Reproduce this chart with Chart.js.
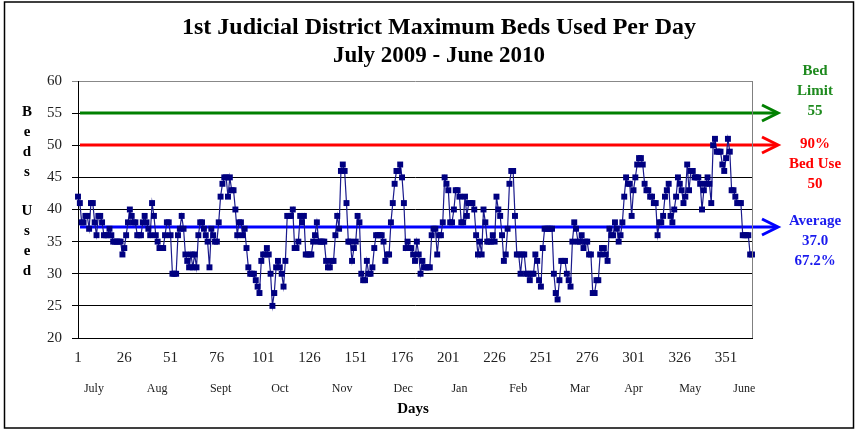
<!DOCTYPE html>
<html><head><meta charset="utf-8">
<script src="https://cdn.jsdelivr.net/npm/chart.js@4/dist/chart.umd.min.js"></script>
<style>html,body{margin:0;padding:0;background:#fff;}#wrap{width:857px;height:431px;position:relative}</style>
</head><body><div id="wrap"><canvas id="c" width="857" height="431"></canvas></div>
<script>
const titleLines = ['1st Judicial District Maximum Beds Used Per Day', 'July 2009 - June 2010'];
const beds = [
42,41,38,38,39,39,37,41,41,38,
36,39,39,38,36,36,36,37,36,35,
35,35,35,35,33,34,36,38,40,39,
38,38,36,36,36,38,39,38,37,36,
41,39,36,35,34,34,34,36,38,38,
36,30,30,30,36,37,39,37,33,32,
31,33,31,33,31,36,38,38,37,36,
35,31,37,36,35,35,38,42,44,45,
45,42,45,43,43,40,36,38,38,36,
37,34,31,30,30,30,29,28,27,32,
33,33,34,33,30,25,27,31,32,31,
30,28,32,39,39,39,40,34,34,35,
39,38,39,33,33,33,33,35,36,38,
35,35,35,35,32,31,31,32,32,36,
39,37,46,47,46,41,35,35,32,34,
35,39,38,30,29,29,32,30,30,31,
34,36,36,36,36,35,32,33,33,38,
41,44,46,46,47,45,41,34,35,34,
34,33,32,35,33,30,32,31,31,31,
31,36,37,37,33,36,36,38,45,44,
43,38,38,40,43,43,42,38,38,42,
39,41,41,41,40,36,33,35,33,40,
38,35,35,35,36,35,42,40,39,36,
32,33,37,44,46,46,39,33,33,30,
33,33,30,30,29,30,30,33,32,29,
28,34,37,37,37,37,37,30,27,26,
29,32,32,32,30,29,28,35,38,37,
35,35,36,34,35,35,33,33,27,27,
29,29,33,34,34,33,32,37,36,36,
38,37,35,36,38,42,45,44,44,39,
43,45,47,48,48,47,44,43,43,42,
42,41,41,36,38,38,39,42,43,44,
39,38,40,42,45,44,43,41,42,47,
43,46,46,45,45,45,44,40,43,44,
45,44,41,50,51,49,49,49,47,46,
48,51,49,43,43,42,41,41,41,36,
36,36,36,33,33
];
const xTickValues = [1,26,51,76,101,126,151,176,201,226,251,276,301,326,351];
const yMin = 20, yMax = 60, yStep = 5;
const monthNames = ['July','Aug','Sept','Oct','Nov','Dec','Jan','Feb','Mar','Apr','May','June'];
const monthLabelDays = [9.6,43.7,78,110,143.6,176.6,207,238.7,272,301,331.6,360.8];
const xAxisTitle = 'Days';
const yAxisTitleWords = ['Beds','Used'];
const bedLimit = 55;
const bedUse90 = 50;
const averageBeds = 37.3;
const bedLimitLabel = ['Bed','Limit','55'];
const bedUseLabel = ['90%','Bed Use','50'];
const averageLabel = ['Average','37.0','67.2%'];

const SERIF = '"Liberation Serif","DejaVu Serif",serif';
const refLines = [
  {value: bedLimit, color: '#008000', text: bedLimitLabel, textColor: '#1e8a1e', textTop: 71},
  {value: bedUse90, color: '#ff0000', text: bedUseLabel, textColor: '#ff0000', textTop: 144},
  {value: averageBeds, color: '#0000ff', text: averageLabel, textColor: '#1a1aee', textTop: 221}
];

const points = beds.map((v, i) => ({x: i + 1, y: v}));

const deco = {
  id: 'deco',
  beforeDatasetsDraw(chart) {
    const {ctx, chartArea: a, scales: {y}} = chart;
    ctx.save();
    refLines.forEach(r => {
      const py = Math.round(y.getPixelForValue(r.value));
      ctx.strokeStyle = r.color; ctx.lineWidth = 3; ctx.lineCap = 'butt';
      ctx.beginPath(); ctx.moveTo(a.left + 2, py); ctx.lineTo(a.right + 25, py); ctx.stroke();
      ctx.beginPath(); ctx.moveTo(a.right + 10, py - 8); ctx.lineTo(a.right + 26, py); ctx.lineTo(a.right + 10, py + 8); ctx.stroke();
    });
    ctx.restore();
  },
  afterDraw(chart) {
    const {ctx, chartArea: a, scales: {x}} = chart;
    ctx.save();
    ctx.strokeStyle = '#808080'; ctx.lineWidth = 1;
    ctx.beginPath(); ctx.moveTo(a.right + 0.5, a.top); ctx.lineTo(a.right + 0.5, a.bottom); ctx.stroke();
    ctx.strokeStyle = '#000'; ctx.lineWidth = 1.5;
    ctx.strokeRect(4.5, 2, 849, 426);
    ctx.fillStyle = '#000'; ctx.textAlign = 'center'; ctx.textBaseline = 'middle';
    ctx.font = 'bold 24px ' + SERIF;
    ctx.fillText(titleLines[0], 439, 28);
    ctx.font = 'bold 23px ' + SERIF;
    ctx.fillText(titleLines[1], 439, 56);
    ctx.font = '12px ' + SERIF; ctx.fillStyle = '#222';
    monthNames.forEach((m, i) => ctx.fillText(m, x.getPixelForValue(monthLabelDays[i]), 389));
    ctx.font = 'bold 15px ' + SERIF; ctx.fillStyle = '#000';
    ctx.fillText(xAxisTitle, 413, 409);
    const l1 = yAxisTitleWords[0].split(''), l2 = yAxisTitleWords[1].split('');
    l1.forEach((c, i) => ctx.fillText(c, 27, 112 + i * 20));
    l2.forEach((c, i) => ctx.fillText(c, 27, 211 + i * 20));
    ctx.font = 'bold 15px ' + SERIF;
    refLines.forEach(r => {
      ctx.fillStyle = r.textColor;
      r.text.forEach((t, i) => ctx.fillText(t, 815, r.textTop + i * 20));
    });
    ctx.restore();
  }
};

new Chart(document.getElementById('c'), {
  type: 'line',
  data: {
    datasets: [{
      data: points,
      clip: false,
      borderColor: '#1a1a8c',
      borderWidth: 1.2,
      backgroundColor: '#000080',
      pointStyle: 'rect',
      pointRadius: 4.2,
      pointBorderWidth: 0,
      pointBackgroundColor: '#000080',
      tension: 0
    }]
  },
  options: {
    responsive: false,
    animation: false,
    events: [],
    layout: {padding: {left: 0, right: 105, top: 81, bottom: 0}},
    plugins: {legend: {display: false}, title: {display: false}, tooltip: {enabled: false}},
    scales: {
      x: {
        type: 'linear', min: 1, max: 365,
        afterBuildTicks: s => { s.ticks = xTickValues.map(v => ({value: v})); },
        afterFit: s => { s.height = 93; },
        grid: {display: false, drawTicks: false},
        border: {display: true, color: '#000', width: 1},
        ticks: {autoSkip: false, maxRotation: 0, padding: 11, color: '#222', font: {family: SERIF, size: 15}}
      },
      y: {
        min: yMin, max: yMax,
        afterFit: s => { s.width = 78; },
        grid: {color: c => (c.tick && c.tick.value === yMax) ? '#888' : '#000', lineWidth: 1, tickLength: 6, drawTicks: true},
        border: {display: true, color: '#000', width: 1},
        ticks: {stepSize: yStep, padding: 10, color: '#222', font: {family: SERIF, size: 15}}
      }
    }
  },
  plugins: [deco]
});
</script></body></html>
